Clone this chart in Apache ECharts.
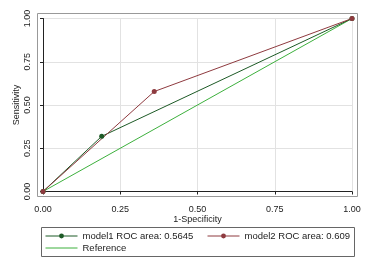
<!DOCTYPE html>
<html><head><meta charset="utf-8">
<script src="https://cdn.jsdelivr.net/npm/echarts@6/dist/echarts.min.js"></script>
<style>html,body{margin:0;padding:0;background:#fff}#c{width:370px;height:263px}</style>
</head><body><div id="c"></div>
<script>
const ticks = [0, 0.25, 0.5, 0.75, 1];
const model1 = [[0, 0], [0.19, 0.319], [1, 1]];
const model2 = [[0, 0], [0.36, 0.578], [1, 1]];
const reference = [[0, 0], [1, 1]];
const names = ['model1 ROC area: 0.5645', 'model2 ROC area: 0.609', 'Reference'];
const colors = ['#1d5a26', '#8e3a3f', '#3db03d'];

const chart = echarts.init(document.getElementById('c'), null, {renderer: 'canvas'});
const font = 'Liberation Sans, Arial, sans-serif';
const axisCommon = {
  type: 'value', min: 0, max: 1, interval: 0.25, offset: 6,
  axisLine: {show: true, lineStyle: {color: '#222', width: 1}},
  axisTick: {show: true, inside: false, length: 3, lineStyle: {color: '#222'}},
  splitLine: {show: true, lineStyle: {color: '#e2e2e2', width: 1}},
  axisLabel: {color: '#222', fontSize: 9, fontFamily: font, formatter: v => v.toFixed(2)},
  nameLocation: 'middle',
  nameMoveOverlap: false,
  nameTextStyle: {color: '#222', fontSize: 9, fontFamily: font}
};
const legendCommon = {
  orient: 'horizontal', padding: 0, itemWidth: 32, itemHeight: 6,
  lineStyle: {width: 1},
  textStyle: {color: '#222', fontSize: 9.5, fontFamily: font},
  selectedMode: false
};
chart.setOption({
  animation: false,
  backgroundColor: '#fff',
  grid: {left: 43, top: 18.5, width: 309, height: 173, containLabel: false, outerBoundsMode: 'none'},
  xAxis: Object.assign({}, axisCommon, {
    name: '1-Specificity', nameGap: 18,
    axisLabel: Object.assign({}, axisCommon.axisLabel, {margin: 8})
  }),
  yAxis: Object.assign({}, axisCommon, {
    name: 'Sensitivity', nameGap: 16,
    axisLabel: Object.assign({}, axisCommon.axisLabel, {rotate: 90, margin: 5})
  }),
  graphic: [
    {type: 'rect', z: -1, silent: true, shape: {x: 37.5, y: 13.5, width: 320, height: 183},
     style: {fill: 'none', stroke: '#999', lineWidth: 1}},
    {type: 'rect', z: -1, silent: true, shape: {x: 41.5, y: 227.5, width: 313, height: 29},
     style: {fill: '#fff', stroke: '#666', lineWidth: 1}}
  ],
  legend: [
    Object.assign({}, legendCommon, {data: [names[0]], left: 45, top: 231}),
    Object.assign({}, legendCommon, {data: [names[1]], left: 207, top: 231}),
    Object.assign({}, legendCommon, {data: [{name: names[2], itemStyle: {opacity: 0}}], left: 45, top: 243})
  ],
  series: [
    {name: names[2], type: 'line', data: reference, showSymbol: false, symbol: 'none',
     lineStyle: {color: colors[2], width: 1}, itemStyle: {color: colors[2]}},
    {name: names[0], type: 'line', data: model1, symbol: 'circle', symbolSize: 5,
     lineStyle: {color: colors[0], width: 1}, itemStyle: {color: colors[0]}},
    {name: names[1], type: 'line', data: model2, symbol: 'circle', symbolSize: 5,
     lineStyle: {color: colors[1], width: 1}, itemStyle: {color: colors[1]}}
  ]
});
</script></body></html>
